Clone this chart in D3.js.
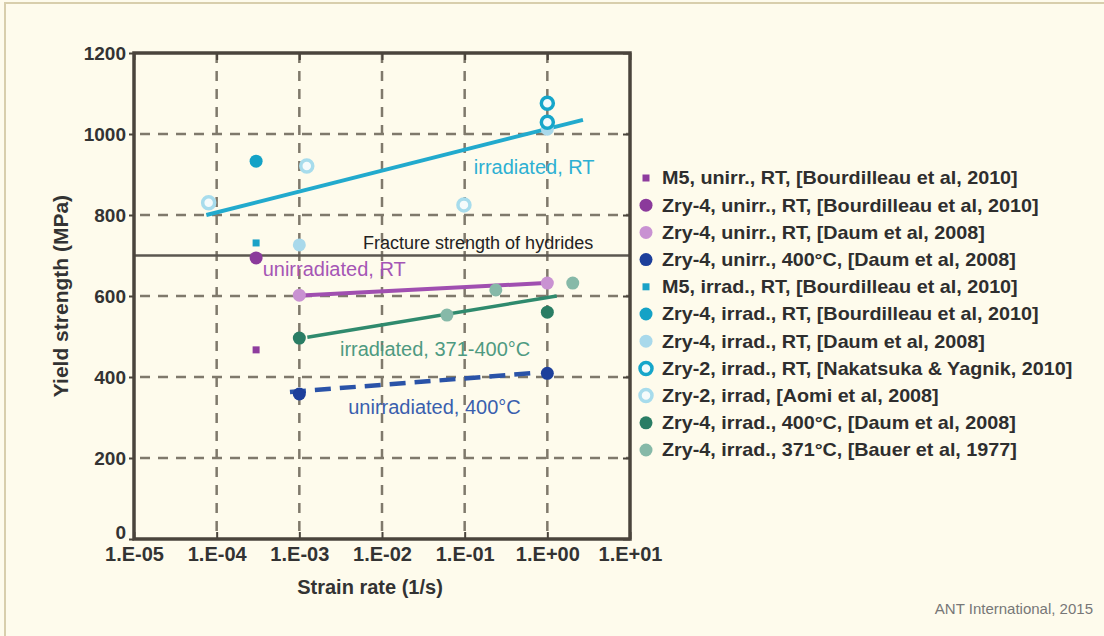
<!DOCTYPE html>
<html>
<head>
<meta charset="utf-8">
<script src="https://cdn.jsdelivr.net/npm/d3@7"></script>
<style>
  body { margin: 0; background: #fefbec; }
  svg { display: block; font-family: "Liberation Sans", Arial, sans-serif; }
</style>
</head>
<body>
<div id="vis-holder"></div>
<script>
// Tick values and labels
const xTicks = [1e-5, 1e-4, 1e-3, 1e-2, 1e-1, 1e0, 1e1];
const xTickLabels = ["1.E-05", "1.E-04", "1.E-03", "1.E-02", "1.E-01", "1.E+00", "1.E+01"];
const yTicks = [0, 200, 400, 600, 800, 1000, 1200];

// Data points [strain rate, yield strength]
const m5UnirrBourdilleau = [[3e-4, 467]];
const zry4UnirrBourdilleau = [[3e-4, 694]];
const zry4UnirrDaum = [[1e-3, 602], [1e0, 632]];
const zry4Unirr400Daum = [[1e-3, 358], [1e0, 409]];
const m5IrrBourdilleau = [[3e-4, 731]];
const zry4IrrBourdilleau = [[3e-4, 933]];
const zry4IrrDaum = [[1e-3, 726], [1e0, 1012]];
const zry2IrrNakatsuka = [[1e0, 1076], [1e0, 1029]];
const zry2IrrAomi = [[8e-5, 830], [1.23e-3, 921], [9.8e-2, 825]];
const zry4Irr400Daum = [[1e-3, 496], [1e0, 560]];
const zry4Irr371Bauer = [[0.061, 553], [0.238, 615], [2.03, 632]];

// Trend lines
const trendIrrRT = [[7.5e-5, 800], [2.7, 1035]];
const trendUnirrRT = [[1.05e-3, 601], [0.95, 632]];
const trendIrrHot = [[1.25e-3, 498], [1.3, 600]];
const trendUnirrHot = [[7.7e-4, 363], [0.71, 410]];
const fractureStrength = 700;

// Legend names
const legendNames = [
  "M5, unirr., RT, [Bourdilleau et al, 2010]",
  "Zry-4, unirr., RT, [Bourdilleau et al, 2010]",
  "Zry-4, unirr., RT, [Daum et al, 2008]",
  "Zry-4, unirr., 400°C, [Daum et al, 2008]",
  "M5, irrad., RT, [Bourdilleau et al, 2010]",
  "Zry-4, irrad., RT, [Bourdilleau et al, 2010]",
  "Zry-4, irrad., RT, [Daum et al, 2008]",
  "Zry-2, irrad., RT, [Nakatsuka & Yagnik, 2010]",
  "Zry-2, irrad, [Aomi et al, 2008]",
  "Zry-4, irrad., 400°C, [Daum et al, 2008]",
  "Zry-4, irrad., 371°C, [Bauer et al, 1977]"
];

// series table: data + marker style
const series = [
  { data: m5UnirrBourdilleau, shape: "square", fill: "#8e3c9e" },
  { data: zry4UnirrBourdilleau, shape: "dot", fill: "#8b3a9b" },
  { data: zry4UnirrDaum, shape: "dot", fill: "#c992d2" },
  { data: zry4Unirr400Daum, shape: "dot", fill: "#1d3f9b" },
  { data: m5IrrBourdilleau, shape: "square", fill: "#1aa2c7" },
  { data: zry4IrrBourdilleau, shape: "dot", fill: "#14a2c6" },
  { data: zry4IrrDaum, shape: "dot", fill: "#a9d9eb" },
  { data: zry2IrrNakatsuka, shape: "ring", fill: "#f2fafb", stroke: "#16a6ca" },
  { data: zry2IrrAomi, shape: "ring", fill: "#f5fbfb", stroke: "#a7dcec" },
  { data: zry4Irr400Daum, shape: "dot", fill: "#2a7d64" },
  { data: zry4Irr371Bauer, shape: "dot", fill: "#86b9a8" }
];

const width = 1104;
const height = 636;
const margin = { top: 53, right: 474, bottom: 97, left: 134 };

const svg = d3.select("#vis-holder")
              .append("svg")
              .attr("width", width)
              .attr("height", height);

// outer frame
svg.append("rect")
   .attr("x", 5).attr("y", 3)
   .attr("width", width + 10).attr("height", height + 10)
   .attr("fill", "#fefbec")
   .attr("stroke", "#d8ceac")
   .attr("stroke-width", 2);

const x = d3.scaleLog()
            .domain([1e-5, 1e1])
            .range([margin.left, width - margin.right]);

const y = d3.scaleLinear()
            .domain([0, 1200])
            .range([height - margin.bottom, margin.top]);

const x0 = margin.left, x1 = width - margin.right;
const y0 = height - margin.bottom, y1 = margin.top;

// grid lines
svg.append("g")
   .selectAll("line")
   .data(xTicks.slice(1, -1))
   .join("line")
   .attr("x1", d => x(d)).attr("x2", d => x(d))
   .attr("y1", y1).attr("y2", y0)
   .attr("stroke", "#7f796b")
   .attr("stroke-width", 2.5)
   .attr("stroke-dasharray", "10,8");

svg.append("g")
   .selectAll("line")
   .data(yTicks.slice(1, -1))
   .join("line")
   .attr("x1", x0).attr("x2", x1)
   .attr("y1", d => y(d)).attr("y2", d => y(d))
   .attr("stroke", "#7f796b")
   .attr("stroke-width", 2.5)
   .attr("stroke-dasharray", "10,8")
   .attr("stroke-dashoffset", -6);

// axes with small ticks
svg.append("g")
   .attr("transform", `translate(0,${y0})`)
   .call(d3.axisBottom(x).tickValues(xTicks).tickSize(6).tickFormat((d, i) => xTickLabels[i]))
   .call(g => g.select(".domain").remove())
   .call(g => g.selectAll(".tick line").attr("stroke", "#4a443c").attr("stroke-width", 2).attr("y2", -7))
   .call(g => g.selectAll(".tick text")
               .attr("y", 8)
               .attr("dy", "0.71em")
               .attr("font-size", "20px")
               .attr("font-weight", "bold")
               .attr("font-family", "Liberation Sans, Arial, sans-serif")
               .attr("fill", "#333"));

svg.append("g")
   .attr("transform", `translate(0,${y1})`)
   .call(d3.axisTop(x).tickValues(xTicks).tickSize(-7).tickFormat(""))
   .call(g => g.select(".domain").remove())
   .call(g => g.selectAll(".tick line").attr("stroke", "#4a443c").attr("stroke-width", 2));

svg.append("g")
   .attr("transform", `translate(${x0},0)`)
   .call(d3.axisLeft(y).tickValues(yTicks).tickSize(5).tickPadding(3).tickFormat(d3.format("d")))
   .call(g => g.select(".domain").remove())
   .call(g => g.selectAll(".tick line").attr("stroke", "#4a443c").attr("stroke-width", 2))
   .call(g => g.selectAll(".tick text")
               .attr("font-size", "19px")
               .attr("font-weight", "bold")
               .attr("font-family", "Liberation Sans, Arial, sans-serif")
               .attr("fill", "#333"))
   // the zero label sits a little above the corner
   .call(g => g.selectAll(".tick text").filter(d => d === 0).attr("y", -7));

svg.append("g")
   .attr("transform", `translate(${x1},0)`)
   .call(d3.axisRight(y).tickValues(yTicks).tickSize(-7).tickFormat(""))
   .call(g => g.select(".domain").remove())
   .call(g => g.selectAll(".tick line").attr("stroke", "#4a443c").attr("stroke-width", 2));

// fracture strength line
svg.append("line")
   .attr("x1", x0).attr("x2", x1)
   .attr("y1", y(fractureStrength)).attr("y2", y(fractureStrength))
   .attr("stroke", "#5b5750")
   .attr("stroke-width", 2.5);

svg.append("text")
   .attr("x", x(5.9e-3)).attr("y", y(716))
   .attr("font-size", "18px")
   .attr("fill", "#222")
   .text("Fracture strength of hydrides");

// plot frame
svg.append("rect")
   .attr("x", x0).attr("y", y1)
   .attr("width", x1 - x0).attr("height", y0 - y1)
   .attr("fill", "none")
   .attr("stroke", "#4a443c")
   .attr("stroke-width", 3.5);

// trend lines
const line = d3.line().x(d => x(d[0])).y(d => y(d[1]));

svg.append("path").datum(trendIrrRT)
   .attr("d", line).attr("stroke", "#22aacd").attr("stroke-width", 4).attr("fill", "none");
svg.append("path").datum(trendUnirrRT)
   .attr("d", line).attr("stroke", "#a04fb0").attr("stroke-width", 4).attr("fill", "none");
svg.append("path").datum(trendIrrHot)
   .attr("d", line).attr("stroke", "#2f8a6d").attr("stroke-width", 3.5).attr("fill", "none");
svg.append("path").datum(trendUnirrHot)
   .attr("d", line).attr("stroke", "#2a53a8").attr("stroke-width", 4.5).attr("fill", "none")
   .attr("stroke-dasharray", "16,9");

// markers
function drawMarker(g, s, px, py) {
  if (s.shape === "square") {
    g.append("rect")
     .attr("x", px - 3.5).attr("y", py - 3.5)
     .attr("width", 7).attr("height", 7)
     .attr("fill", s.fill);
  } else if (s.shape === "ring") {
    g.append("circle")
     .attr("cx", px).attr("cy", py).attr("r", 6)
     .attr("fill", s.fill)
     .attr("stroke", s.stroke)
     .attr("stroke-width", 3.5);
  } else {
    g.append("circle")
     .attr("cx", px).attr("cy", py).attr("r", 6.5)
     .attr("fill", s.fill);
  }
}

const marks = svg.append("g");
series.forEach(s => {
  s.data.forEach(d => drawMarker(marks, s, x(d[0]), y(d[1])));
});

// trend labels
const labels = [
  { text: "irradiated, RT", at: [0.129, 901], color: "#2db0d3" },
  { text: "unirradiated, RT", at: [3.6e-4, 649], color: "#a556b5" },
  { text: "irradiated, 371-400°C", at: [3.1e-3, 452], color: "#4e9a81" },
  { text: "unirradiated, 400°C", at: [3.9e-3, 309], color: "#3a5fae" }
];
svg.append("g")
   .selectAll("text")
   .data(labels)
   .join("text")
   .attr("x", d => x(d.at[0]))
   .attr("y", d => y(d.at[1]))
   .attr("font-size", "20px")
   .attr("fill", d => d.color)
   .text(d => d.text);

// axis titles
svg.append("text")
   .attr("transform", `translate(68,${(y0 + y1) / 2}) rotate(-90)`)
   .attr("text-anchor", "middle")
   .attr("font-size", "21px")
   .attr("font-weight", "bold")
   .attr("fill", "#333")
   .text("Yield strength (MPa)");

svg.append("text")
   .attr("x", 370).attr("y", 594)
   .attr("text-anchor", "middle")
   .attr("font-size", "20px")
   .attr("font-weight", "bold")
   .attr("fill", "#333")
   .text("Strain rate (1/s)");

// legend
const legend = svg.append("g");
const rowH = 27.2;
series.forEach((s, i) => {
  drawMarker(legend, s, 646, 178 + i * rowH);
});
const legendText = legend.append("g");
legendText.selectAll("text")
   .data(legendNames)
   .join("text")
   .attr("x", 0)
   .attr("y", (d, i) => 178 + i * rowH)
   .attr("dy", "0.36em")
   .attr("font-size", "18px")
   .attr("font-weight", "bold")
   .attr("fill", "#2e2e2e")
   .text(d => d);
// squeeze text to the reference width
const w0 = legendText.select("text").node().getComputedTextLength();
legendText.attr("transform", `translate(662,0) scale(${356 / w0},1)`);

svg.append("text")
   .attr("x", 1093).attr("y", 614)
   .attr("text-anchor", "end")
   .attr("font-size", "15px")
   .attr("fill", "#777")
   .text("ANT International, 2015");
</script>
</body>
</html>
